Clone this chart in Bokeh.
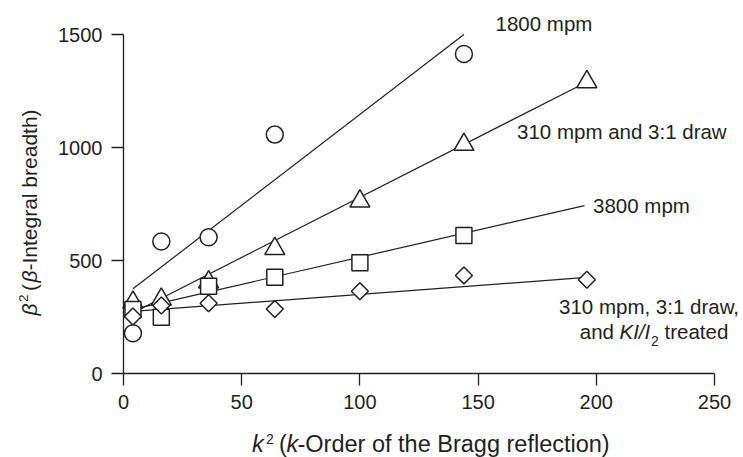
import numpy as np
from bokeh.plotting import figure
from bokeh.models import Label, FixedTicker
from bokeh.embed import file_html
from bokeh.resources import INLINE

# ---- data ----
circ_x = [4, 16, 36, 64, 144]
circ_y = [178, 584, 603, 1057, 1414]
tri_x = [4, 16, 36, 64, 100, 144, 196]
tri_y = [315, 328, 404, 552, 762, 1013, 1290]
sq_x = [4, 16, 36, 64, 100, 144]
sq_y = [283, 249, 386, 426, 490, 611]
dia_x = [4, 16, 36, 64, 100, 144, 196]
dia_y = [252, 301, 311, 285, 364, 434, 415]

# fitted straight lines (end points)
circ_fit_x = [4, 144]
circ_fit_y = [375, 1500]
tri_fit_x = [4, 196]
tri_fit_y = [269, 1290]
sq_fit_x = [4, 195]
sq_fit_y = [284, 743]
dia_fit_x = [4, 196]
dia_fit_y = [275, 425]

x_ticks = [0, 50, 100, 150, 200, 250]
y_ticks = [0, 500, 1000, 1500]
XMAX, YMAX = 250, 1500

FONT = "Liberation Sans"
INK = "#231f20"

# ---- geometry (pixels of the page) ----
W, H = 743, 457
AX_X0, AX_X1 = 123, 714   # x = 0 .. 250
AX_Y0, AX_Y1 = 373, 34    # y = 0 .. 1500
SX = (AX_X1 - AX_X0) / XMAX
SY = (AX_Y0 - AX_Y1) / YMAX

x_range = (-AX_X0 / SX, (W - AX_X0) / SX)
y_range = (-(H - AX_Y0) / SY, AX_Y0 / SY)

p = figure(width=W, height=H, x_range=x_range, y_range=y_range,
           output_backend="svg", toolbar_location=None, title=None,
           min_border=0, min_border_left=0, min_border_right=0,
           min_border_top=0, min_border_bottom=0)
p.outline_line_color = None
p.xgrid.visible = False
p.ygrid.visible = False

for ax in (p.xaxis[0], p.yaxis[0]):
    ax.fixed_location = 0
    ax.axis_line_color = INK
    ax.axis_line_width = 1.3
    ax.major_tick_line_color = INK
    ax.major_tick_line_width = 1.3
    ax.major_tick_in = 0
    ax.major_tick_out = 12
    ax.minor_tick_line_color = None
    ax.major_label_text_font = FONT
    ax.major_label_text_font_size = "20px"
    ax.major_label_text_color = INK
    ax.major_label_standoff = 9
p.xaxis.ticker = FixedTicker(ticks=x_ticks)
p.yaxis.ticker = FixedTicker(ticks=y_ticks)
p.xaxis.bounds = (0, XMAX)
p.yaxis.bounds = (0, YMAX)

# fitted lines
for fx, fy in [(circ_fit_x, circ_fit_y), (tri_fit_x, tri_fit_y),
               (sq_fit_x, sq_fit_y), (dia_fit_x, dia_fit_y)]:
    p.line(fx, fy, line_color=INK, line_width=1.2)

# markers
mk = dict(line_color=INK, line_width=1.5, fill_color="white")
p.scatter(circ_x, circ_y, marker="circle", size=17, **mk)
p.scatter(tri_x, tri_y, marker="triangle", size=20, **mk)
p.scatter(sq_x, sq_y, marker="square", size=16, **mk)
p.scatter(dia_x, dia_y, marker="square", size=12, angle=np.pi / 4, **mk)

MID = 0.35  # distance baseline -> middle of text box, in em


def lab(text, px, py, size, style="normal", rotated=False):
    """px, py: start of the text on its baseline (page pixels)."""
    fs = float(size.replace("px", ""))
    if rotated:
        cx, cy, ang = px - MID * fs, py, np.pi / 2
    else:
        cx, cy, ang = px, py - MID * fs, 0.0
    p.add_layout(Label(x=(cx - AX_X0) / SX, y=(AX_Y0 - cy) / SY, text=text,
                       text_font=FONT, text_font_size=size,
                       text_font_style=style, text_color=INK,
                       text_align="left", text_baseline="middle",
                       angle=ang))


# series annotations
lab("1800 mpm", 495, 30.5, "20.5px")
lab("310 mpm and 3:1 draw", 516.5, 138, "20.5px")
lab("3800 mpm", 592.5, 212, "20.5px")
lab("310 mpm, 3:1 draw,", 558.5, 313, "20.5px")
lab("and", 579.3, 338, "20.5px")
lab("KI/I", 619, 338, "20.5px", "italic")
lab("2", 650.5, 345, "14px")
lab("treated", 664, 338, "20.5px")

# x axis title
lab("k", 251.5, 452, "23.5px", "italic")
lab("2", 265.5, 443, "14px")
lab("(", 278.5, 452, "23.5px")
lab("k", 286, 452, "23.5px", "italic")
lab("-Order of the Bragg reflection)", 297, 452, "23.5px")

# y axis title (rotated)
lab("\u03b2", 36, 315, "21px", "italic", True)
lab("2", 28, 301.5, "13.5px", "normal", True)
lab("(", 36, 290.5, "21px", "normal", True)
lab("\u03b2", 36, 282, "21px", "italic", True)
lab("-Integral breadth)", 36, 270, "21px", "normal", True)

open("out.html", "w").write(file_html(p, INLINE))
